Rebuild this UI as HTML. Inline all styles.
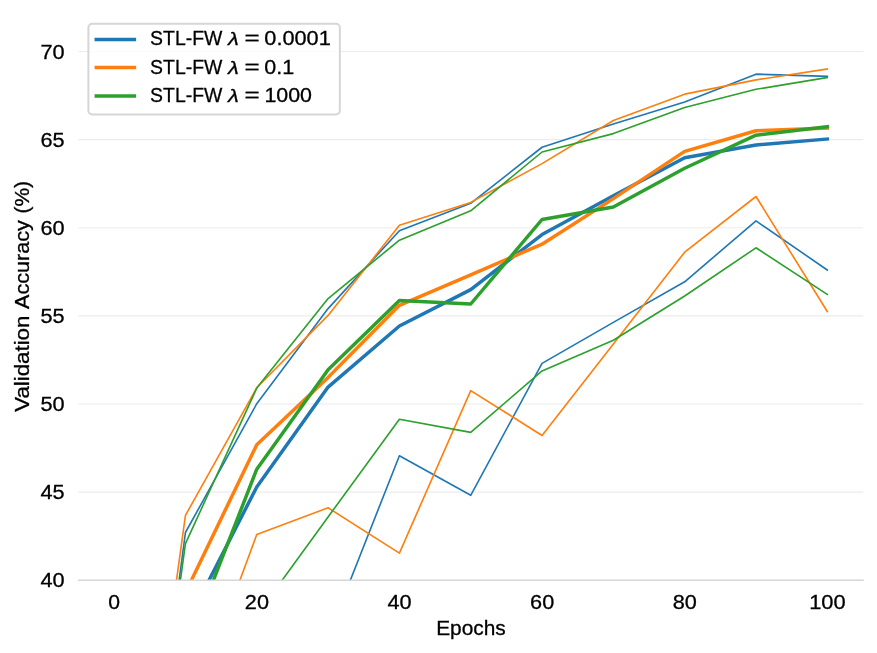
<!DOCTYPE html>
<html lang="en"><head><meta charset="utf-8"><title>Validation accuracy vs epochs</title>
<style>
html,body{margin:0;padding:0;background:#fff;}
body{width:877px;height:653px;overflow:hidden;}
svg{display:block;will-change:transform;}
text{font-family:"Liberation Sans",sans-serif;fill:#000;stroke:#000;stroke-width:0.3px;}
</style></head><body>
<svg width="877" height="653" viewBox="0 0 877 653">
<rect x="0" y="0" width="877" height="653" fill="#ffffff"/>
<defs><clipPath id="ax"><rect x="78.45" y="0" width="784.80" height="580.3"/></clipPath></defs>
<g stroke="#ececec" stroke-width="1.2" fill="none">
<line x1="78.45" y1="51.5" x2="863.25" y2="51.5"/>
<line x1="78.45" y1="139.62" x2="863.25" y2="139.62"/>
<line x1="78.45" y1="227.75" x2="863.25" y2="227.75"/>
<line x1="78.45" y1="315.88" x2="863.25" y2="315.88"/>
<line x1="78.45" y1="404.0" x2="863.25" y2="404.0"/>
<line x1="78.45" y1="492.12" x2="863.25" y2="492.12"/>
<line x1="78.45" y1="580.25" x2="863.25" y2="580.25"/>
</g>
<g clip-path="url(#ax)">
<polyline points="180.34,636.28 256.76,487.00 328.08,387.10 399.40,326.00 470.72,289.60 542.04,234.60 613.36,195.80 684.68,157.70 756.00,144.95 827.32,139.00" fill="none" stroke="#1f77b4" stroke-width="3.47" stroke-linejoin="round" stroke-linecap="square"/>
<polyline points="175.30,608.98 185.44,532.50 256.76,403.70 328.08,308.60 399.40,230.70 470.72,203.30 542.04,147.25 613.36,123.90 684.68,102.06 756.00,74.15 827.32,76.35" fill="none" stroke="#1f77b4" stroke-width="1.62" stroke-linejoin="round" stroke-linecap="square"/>
<polyline points="320.84,655.00 399.40,455.80 470.72,495.30 542.04,363.40 613.36,322.40 684.68,281.80 756.00,220.90 827.32,270.00" fill="none" stroke="#1f77b4" stroke-width="1.62" stroke-linejoin="round" stroke-linecap="square"/>
<polyline points="152.18,661.66 256.76,444.70 328.08,377.40 399.40,305.30 470.72,274.80 542.04,244.20 613.36,198.60 684.68,151.40 756.00,130.76 827.32,128.00" fill="none" stroke="#ff7f0e" stroke-width="3.47" stroke-linejoin="round" stroke-linecap="square"/>
<polyline points="171.14,619.24 185.44,515.40 256.76,387.70 328.08,315.40 399.40,225.30 470.72,202.40 542.04,163.60 613.36,120.50 684.68,94.15 756.00,79.90 827.32,69.00" fill="none" stroke="#ff7f0e" stroke-width="1.62" stroke-linejoin="round" stroke-linecap="square"/>
<polyline points="229.78,607.78 256.76,534.50 328.08,507.80 399.40,553.10 470.72,390.60 542.04,435.50 613.36,344.00 684.68,252.20 756.00,196.50 827.32,311.60" fill="none" stroke="#ff7f0e" stroke-width="1.62" stroke-linejoin="round" stroke-linecap="square"/>
<polyline points="187.38,646.96 256.76,469.20 328.08,369.80 399.40,300.40 470.72,304.00 542.04,219.50 613.36,207.06 684.68,168.30 756.00,135.16 827.32,126.80" fill="none" stroke="#2ca02c" stroke-width="3.47" stroke-linejoin="round" stroke-linecap="square"/>
<polyline points="177.38,602.32 185.44,543.60 256.76,388.10 328.08,298.60 399.40,240.20 470.72,210.80 542.04,152.00 613.36,133.60 684.68,107.50 756.00,89.30 827.32,77.55" fill="none" stroke="#2ca02c" stroke-width="1.62" stroke-linejoin="round" stroke-linecap="square"/>
<polyline points="254.51,618.28 328.08,517.00 399.40,419.30 470.72,432.40 542.04,370.90 613.36,340.20 684.68,296.00 756.00,247.80 827.32,294.50" fill="none" stroke="#2ca02c" stroke-width="1.62" stroke-linejoin="round" stroke-linecap="square"/>
</g>
<line x1="77.90" y1="580.25" x2="863.80" y2="580.25" stroke="#d8d8d8" stroke-width="1.5"/>
<g font-size="20.9" text-anchor="end">
<text x="64.6" y="59" textLength="24.2" lengthAdjust="spacingAndGlyphs">70</text>
<text x="64.6" y="147" textLength="24.2" lengthAdjust="spacingAndGlyphs">65</text>
<text x="64.6" y="235" textLength="24.2" lengthAdjust="spacingAndGlyphs">60</text>
<text x="64.6" y="323" textLength="24.2" lengthAdjust="spacingAndGlyphs">55</text>
<text x="64.6" y="411" textLength="24.2" lengthAdjust="spacingAndGlyphs">50</text>
<text x="64.6" y="499" textLength="24.2" lengthAdjust="spacingAndGlyphs">45</text>
<text x="64.6" y="587" textLength="24.2" lengthAdjust="spacingAndGlyphs">40</text>
</g>
<g font-size="20.9" text-anchor="middle">
<text x="114.27" y="609" textLength="11.77" lengthAdjust="spacingAndGlyphs">0</text>
<text x="256.91" y="609" textLength="24.14" lengthAdjust="spacingAndGlyphs">20</text>
<text x="399.55" y="609" textLength="24.14" lengthAdjust="spacingAndGlyphs">40</text>
<text x="542.19" y="609" textLength="24.14" lengthAdjust="spacingAndGlyphs">60</text>
<text x="684.83" y="609" textLength="24.14" lengthAdjust="spacingAndGlyphs">80</text>
<text x="827.47" y="609" textLength="36.51" lengthAdjust="spacingAndGlyphs">100</text>
</g>
<text x="471.0" y="635" font-size="20.5" text-anchor="middle" textLength="69.6" lengthAdjust="spacingAndGlyphs">Epochs</text>
<text transform="translate(29.4,411.8) rotate(-90)" font-size="20.5" textLength="96.2" lengthAdjust="spacingAndGlyphs">Validation</text>
<text transform="translate(29.4,309.0) rotate(-90)" font-size="20.5" textLength="88.9" lengthAdjust="spacingAndGlyphs">Accuracy</text>
<text transform="translate(29.4,213.6) rotate(-90)" font-size="20.5" textLength="32.6" lengthAdjust="spacingAndGlyphs">(%)</text>
<rect x="88.4" y="23.75" width="251.45" height="90.65" rx="3.9" ry="3.9" fill="#ffffff" fill-opacity="0.8" stroke="#cccccc" stroke-opacity="0.8" stroke-width="2.0"/>
<line x1="96.3" y1="39.5" x2="134.4" y2="39.5" stroke="#1f77b4" stroke-width="3.47" stroke-linecap="square"/>
<text y="45" font-size="20.5"><tspan x="150.1" textLength="72.2" lengthAdjust="spacingAndGlyphs">STL-FW</tspan><tspan x="227.9" font-style="italic" font-size="19.2" textLength="10.8" lengthAdjust="spacingAndGlyphs">λ</tspan><tspan x="244.4" textLength="15.2" lengthAdjust="spacingAndGlyphs">=</tspan><tspan x="264.3" textLength="66.5" lengthAdjust="spacingAndGlyphs">0.0001</tspan></text>
<line x1="96.3" y1="67.5" x2="134.4" y2="67.5" stroke="#ff7f0e" stroke-width="3.47" stroke-linecap="square"/>
<text y="74" font-size="20.5"><tspan x="150.1" textLength="72.2" lengthAdjust="spacingAndGlyphs">STL-FW</tspan><tspan x="227.9" font-style="italic" font-size="19.2" textLength="10.8" lengthAdjust="spacingAndGlyphs">λ</tspan><tspan x="244.4" textLength="15.2" lengthAdjust="spacingAndGlyphs">=</tspan><tspan x="264.3" textLength="29.9" lengthAdjust="spacingAndGlyphs">0.1</tspan></text>
<line x1="96.3" y1="96.0" x2="134.4" y2="96.0" stroke="#2ca02c" stroke-width="3.47" stroke-linecap="square"/>
<text y="102" font-size="20.5"><tspan x="150.1" textLength="72.2" lengthAdjust="spacingAndGlyphs">STL-FW</tspan><tspan x="227.9" font-style="italic" font-size="19.2" textLength="10.8" lengthAdjust="spacingAndGlyphs">λ</tspan><tspan x="244.4" textLength="15.2" lengthAdjust="spacingAndGlyphs">=</tspan><tspan x="264.4" textLength="47.6" lengthAdjust="spacingAndGlyphs">1000</tspan></text>
</svg>
</body></html>
